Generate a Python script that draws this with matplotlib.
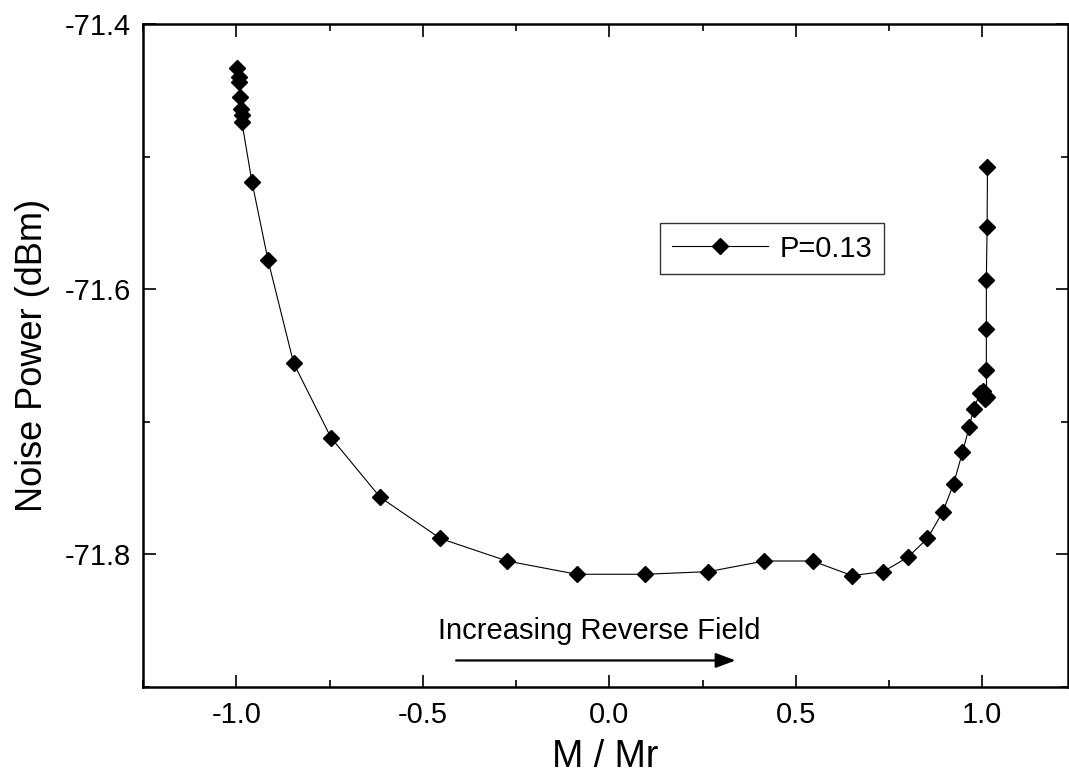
import matplotlib
matplotlib.use('Agg')
import matplotlib.pyplot as plt
from matplotlib.ticker import MultipleLocator

plt.rcParams['font.family'] = ['Liberation Sans', 'DejaVu Sans']

# M / Mr (sweep order)
m_ratio = [-0.998, -0.994, -0.994, -0.989, -0.987, -0.985, -0.985, -0.958, -0.915, -0.846,
           -0.746, -0.614, -0.453, -0.274, -0.087, 0.097, 0.266, 0.416, 0.545, 0.651,
           0.735, 0.801, 0.853, 0.894, 0.923, 0.947, 0.965, 0.977,
           0.995, 1.003, 1.008, 1.012, 1.011, 1.011, 1.011, 1.013, 1.014]
# noise power in dBm
noise = [-71.433, -71.440, -71.444, -71.455, -71.464, -71.469, -71.474, -71.519, -71.578, -71.656,
         -71.712, -71.757, -71.788, -71.805, -71.815, -71.815, -71.813, -71.805, -71.805, -71.816,
         -71.813, -71.802, -71.788, -71.768, -71.747, -71.723, -71.704, -71.690,
         -71.678, -71.677, -71.683, -71.681, -71.661, -71.630, -71.593, -71.553, -71.508]
series_label = 'P=0.13'

fig = plt.figure(figsize=(10.69, 7.78), dpi=100)
ax = fig.add_axes([0.1338, 0.1170, 0.8653, 0.8522])

ax.plot(m_ratio, noise, color='black', lw=0.8, marker='D', ms=8,
        mfc='black', mec='black', label=series_label)

ax.set_xlim(-1.25, 1.23)
ax.set_ylim(-71.9, -71.4)
ax.xaxis.set_major_locator(MultipleLocator(0.5))
ax.xaxis.set_minor_locator(MultipleLocator(0.25))
ax.yaxis.set_major_locator(MultipleLocator(0.2))
ax.yaxis.set_minor_locator(MultipleLocator(0.1))
ax.xaxis.set_major_formatter(plt.FormatStrFormatter('%.1f'))
ax.yaxis.set_major_formatter(plt.FormatStrFormatter('%.1f'))

ax.tick_params(which='both', direction='in', top=True, right=True, width=1.2, labelsize=21)
ax.tick_params(which='major', length=9)
ax.tick_params(which='minor', length=5)
ax.tick_params(axis='x', pad=10)
ax.tick_params(axis='y', pad=9)
for s in ax.spines.values():
    s.set_linewidth(1.8)

ax.set_xlabel('M / Mr', fontsize=27)
ax.set_ylabel('Noise Power (dBm)', fontsize=26)
ax.xaxis.set_label_coords(0.5, -0.078)
ax.yaxis.set_label_coords(-0.1005, 0.5)

ax.text(-0.458, -71.864, 'Increasing Reverse Field', fontsize=21, ha='left', va='baseline')
ax.annotate('', xy=(0.346, -71.880), xytext=(-0.418, -71.880),
            arrowprops=dict(arrowstyle='-|>,head_length=1.2,head_width=0.45', color='black', lw=1.6))

leg = ax.legend(loc='upper right', bbox_to_anchor=(884 / 1069, 1 - 223 / 778),
                bbox_transform=fig.transFigure, fontsize=21, frameon=True, fancybox=False,
                handlelength=3.3, borderaxespad=0, borderpad=0.4, handletextpad=0.4)
leg.get_frame().set_edgecolor('black')
leg.get_frame().set_linewidth(1.0)

fig.savefig('out.png', dpi=100)
